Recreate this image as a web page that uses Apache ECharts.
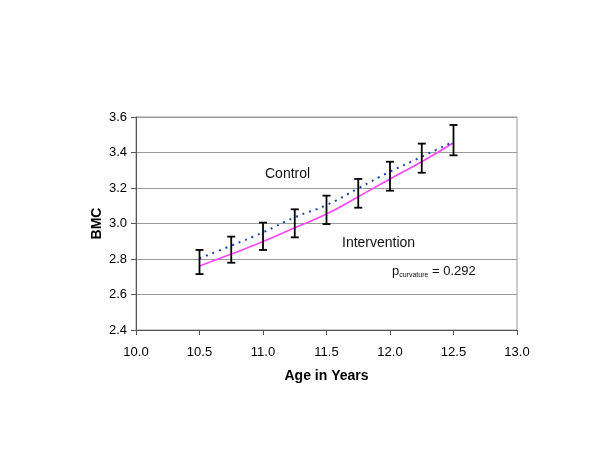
<!DOCTYPE html>
<html>
<head>
<meta charset="utf-8">
<script src="https://cdn.jsdelivr.net/npm/echarts@6/dist/echarts.min.js"></script>
<style>html,body{margin:0;padding:0;background:#fff}#c{width:600px;height:464px}</style>
</head>
<body>
<div id="c"></div>
<script>
var ages = [10.5, 10.75, 11.0, 11.25, 11.5, 11.75, 12.0, 12.25, 12.5];
var controlBMC = [2.804, 2.875, 2.950, 3.035, 3.104, 3.198, 3.292, 3.376, 3.461];
var interventionBMC = [2.761, 2.828, 2.898, 2.976, 3.053, 3.151, 3.251, 3.348, 3.455];
var errLow = [2.715, 2.779, 2.851, 2.922, 2.997, 3.089, 3.185, 3.286, 3.384];
var errHigh = [2.851, 2.926, 3.005, 3.080, 3.157, 3.251, 3.348, 3.450, 3.555];

var font = '"Liberation Sans", Arial, sans-serif';
var chart = echarts.init(document.getElementById('c'), null, {renderer: 'canvas'});

var errData = ages.map(function (a, i) { return [a, errLow[i], errHigh[i]]; });

chart.setOption({
  animation: false,
  backgroundColor: '#ffffff',
  grid: {left: 136, right: 83, top: 117, bottom: 134, show: true, borderColor: '#999999', borderWidth: 1},
  xAxis: {
    type: 'value', min: 10, max: 13, interval: 0.5,
    name: 'Age in Years', nameLocation: 'middle', nameGap: 39, nameMoveOverlap: false,
    nameTextStyle: {fontFamily: font, fontSize: 14, fontWeight: 'bold', color: '#000'},
    axisLine: {show: true, lineStyle: {color: '#555', width: 1}},
    axisTick: {show: true, inside: false, length: 5, lineStyle: {color: '#555'}},
    axisLabel: {fontFamily: font, fontSize: 13, color: '#000', margin: 16,
      formatter: function (v) { return v.toFixed(1); }},
    splitLine: {show: false}
  },
  yAxis: {
    type: 'value', min: 2.4, max: 3.6, interval: 0.2,
    name: 'BMC', nameLocation: 'middle', nameGap: 32, nameRotate: 90, nameMoveOverlap: false,
    nameTextStyle: {fontFamily: font, fontSize: 14, fontWeight: 'bold', color: '#000'},
    axisLine: {show: true, lineStyle: {color: '#555', width: 1}},
    axisTick: {show: true, inside: false, length: 5, lineStyle: {color: '#555'}},
    axisLabel: {fontFamily: font, fontSize: 13, color: '#000', margin: 9,
      formatter: function (v) { return v.toFixed(1); }},
    splitLine: {show: true, lineStyle: {color: '#999999', width: 1}}
  },
  series: [
    {
      type: 'line', name: 'Intervention', data: ages.map(function (a, i) { return [a, interventionBMC[i]]; }),
      showSymbol: false, smooth: true, lineStyle: {color: '#ff44ff', width: 1.6}, z: 3
    },
    {
      type: 'line', name: 'Control', data: ages.map(function (a, i) { return [a, controlBMC[i]]; }),
      showSymbol: false, smooth: true, lineStyle: {color: '#2040b0', width: 2, type: [2, 5]}, z: 4
    },
    {
      type: 'custom', name: 'SE', data: errData, z: 5,
      renderItem: function (params, api) {
        var x = api.value(0);
        var lo = api.coord([x, api.value(1)]);
        var hi = api.coord([x, api.value(2)]);
        var hw = 4;
        var st = {stroke: '#000', lineWidth: 1.8};
        return {type: 'group', children: [
          {type: 'line', shape: {x1: lo[0], y1: lo[1], x2: hi[0], y2: hi[1]}, style: st},
          {type: 'line', shape: {x1: lo[0] - hw, y1: lo[1], x2: lo[0] + hw, y2: lo[1]}, style: st},
          {type: 'line', shape: {x1: hi[0] - hw, y1: hi[1], x2: hi[0] + hw, y2: hi[1]}, style: st}
        ]};
      }
    }
  ],
  graphic: [
    {type: 'text', left: 265, top: 167, style: {text: 'Control', font: '14px ' + font, fill: '#111'}},
    {type: 'text', left: 342, top: 236, style: {text: 'Intervention', font: '14px ' + font, fill: '#111'}},
    {type: 'text', left: 392, top: 265, style: {
      text: '{p|p}{s|curvature}{p| = 0.292}',
      rich: {p: {font: '13px ' + font, fill: '#111', color: '#111'}, s: {font: '7px ' + font, fill: '#111', color: '#111', verticalAlign: 'bottom', padding: [7, 0, 0, 0]}}
    }}
  ]
});
</script>
</body>
</html>
